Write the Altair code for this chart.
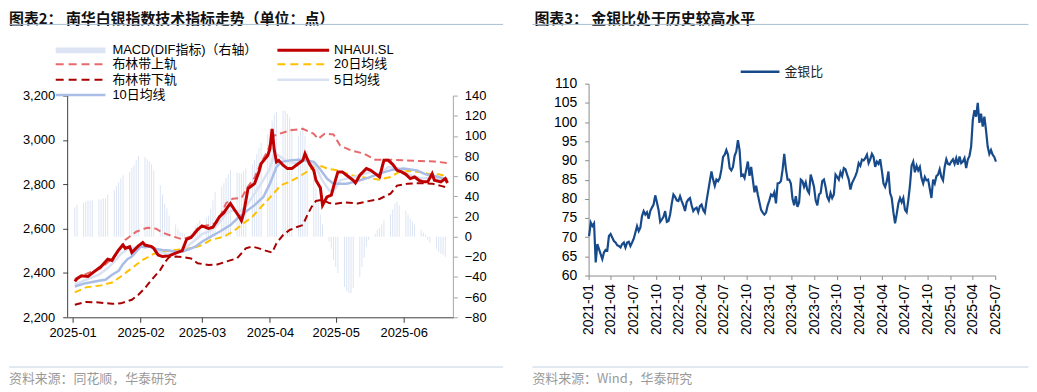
import altair as alt
import pandas as pd

CJK = "Noto Sans CJK SC"
MIX = "Liberation Sans, Noto Sans CJK SC"

# ---------------- 图表2 data (南华白银指数) ----------------
MACD_FIRST = "2025-01-02"
MACD_LAST = "2025-06-20"
macd_dif = [
    29, 32, 34, 35, 36, 36, 36, 37, 37, 38, 38, 42, 46, 50, 54, 58, 61, 64, 68, 71, 76, 80,
    79, 77, 75, 72, 66, 51, 42, 33, 28, 21, 12, 8, 5, 4, 3, 4, 6, 10, 13, 16,
    19, 21, 28, 36, 44, 50, 53, 58, 62, 66, 64, 63, 63, 65, 68, 72, 76, 82, 88, 93, 102,
    107, 115, 121, 124, 125, 125, 122, 118, 108, 100, 105, 110, 100, 85, 60, 48, 35, 22, 12, -5, -12, -23,
    -30, -36, -50, -54, -56, -56, -51, -40, -30, -21, -10, -3, 3, 7, 9, 12, 16, 22, 27, 33, 35, 31,
    26, 22, 18, 15, 12, 7, 4, 2, -3, -6, -12, -15, -17, -18, -20,
]

nh_dates = ["01-02", "01-03", "01-05", "01-08", "01-11", "01-14", "01-17", "01-19", "01-20", "01-22",
            "01-24", "01-25", "01-27", "01-28", "01-31", "02-02", "02-03", "02-06", "02-07", "02-09",
            "02-11", "02-14", "02-17", "02-20", "02-22", "02-24", "02-27", "03-01", "03-04", "03-06",
            "03-09", "03-11", "03-13", "03-14", "03-16", "03-18", "03-19", "03-20", "03-22", "03-24",
            "03-25", "03-27", "03-28", "03-31", "04-01", "04-02", "04-03", "04-04", "04-05", "04-07",
            "04-09", "04-11", "04-13", "04-16", "04-17", "04-18", "04-19", "04-21", "04-22", "04-24",
            "04-25", "04-27", "04-29", "04-30", "05-02", "05-04", "05-06", "05-09", "05-10", "05-12",
            "05-15", "05-17", "05-19", "05-21", "05-23", "05-25", "05-27", "05-29", "05-31", "06-02",
            "06-04", "06-06", "06-08", "06-10", "06-12", "06-14", "06-15", "06-18", "06-20", "06-21"]
nh_vals = [2362, 2374, 2387, 2384, 2407, 2429, 2462, 2456, 2474, 2504,
           2526, 2511, 2519, 2492, 2522, 2537, 2526, 2519, 2511, 2481,
           2474, 2477, 2489, 2501, 2552, 2560, 2595, 2612, 2601, 2606,
           2654, 2672, 2701, 2713, 2683, 2654, 2636, 2669, 2781, 2796,
           2803, 2856, 2893, 2930, 2960, 3050, 2953, 2901, 2908, 2886,
           2871, 2871, 2886, 2908, 2938, 2916, 2893, 2863, 2818, 2785,
           2706, 2743, 2751, 2788, 2856, 2856, 2841, 2818, 2806, 2841,
           2871, 2863, 2848, 2833, 2908, 2908, 2890, 2863, 2856, 2845,
           2826, 2833, 2818, 2811, 2811, 2848, 2818, 2811, 2826, 2806]

ma5_dates = ["01-02", "01-07", "01-13", "01-17", "01-20", "01-23", "01-26", "01-30",
             "02-02", "02-06", "02-09", "02-13", "02-16", "02-20", "02-23", "02-26",
             "03-01", "03-04", "03-08", "03-12", "03-15", "03-18", "03-21", "03-24", "03-28",
             "04-01", "04-03", "04-05", "04-08", "04-13", "04-16", "04-19", "04-22", "04-25", "04-28", "04-30",
             "05-03", "05-08", "05-12", "05-17", "05-21", "05-25", "05-29",
             "06-03", "06-09", "06-14", "06-18", "06-21"]
ma5_vals = [2347, 2369, 2392, 2422, 2451, 2486, 2507, 2516,
            2522, 2519, 2496, 2486, 2489, 2501, 2526, 2549,
            2575, 2586, 2616, 2669, 2683, 2676, 2698, 2743, 2803,
            2871, 2938, 2930, 2908, 2893, 2908, 2901, 2878, 2815, 2773, 2766,
            2818, 2830, 2841, 2856, 2845, 2878, 2874,
            2845, 2826, 2830, 2821, 2818]

ma10_dates = ["01-02", "01-07", "01-13", "01-16", "01-19", "01-22", "01-24", "01-26", "01-28", "01-30",
              "02-01", "02-03", "02-05", "02-08", "02-11", "02-14", "02-17", "02-20", "02-23", "02-26",
              "03-01", "03-05", "03-09", "03-14", "03-18", "03-22", "03-25", "03-29",
              "04-01", "04-04", "04-06", "04-10", "04-14", "04-18", "04-21", "04-23", "04-27", "04-30",
              "05-06", "05-11", "05-16", "05-21", "05-27",
              "06-01", "06-07", "06-11", "06-17", "06-21"]
ma10_vals = [2339, 2354, 2365, 2369, 2392, 2410, 2440, 2462, 2474, 2496,
             2519, 2516, 2519, 2508, 2504, 2501, 2496, 2496, 2507, 2519,
             2541, 2564, 2586, 2616, 2654, 2684, 2706, 2743,
             2803, 2878, 2900, 2908, 2911, 2908, 2901, 2880, 2826, 2803,
             2803, 2815, 2830, 2848, 2866,
             2871, 2863, 2845, 2833, 2821]

ma20_dates = ["01-02", "01-07", "01-14", "01-19", "01-23", "01-28",
              "02-02", "02-07", "02-11", "02-17", "02-23", "02-26",
              "03-01", "03-05", "03-11", "03-15", "03-19", "03-24", "03-28",
              "04-02", "04-06", "04-10", "04-14", "04-17", "04-20", "04-22", "04-25", "04-27",
              "05-02", "05-08", "05-12", "05-17", "05-21", "05-26", "05-30",
              "06-03", "06-08", "06-12", "06-17", "06-21"]
ma20_vals = [2312, 2335, 2344, 2357, 2384, 2422,
             2459, 2486, 2496, 2504, 2511, 2516,
             2526, 2549, 2564, 2586, 2616, 2654, 2698,
             2751, 2796, 2811, 2833, 2851, 2871, 2884, 2880, 2871,
             2863, 2841, 2833, 2826, 2821, 2833, 2856,
             2860, 2856, 2848, 2845, 2836]

upper_dates = ["01-02", "01-08", "01-14", "01-20", "01-25", "01-30",
               "02-04", "02-08", "02-11", "02-16", "02-20", "02-24", "02-27",
               "03-01", "03-08", "03-12", "03-15", "03-19", "03-22", "03-25", "03-28", "03-31",
               "04-02", "04-03", "04-10", "04-16", "04-21", "04-23", "04-26", "04-30",
               "05-03", "05-08", "05-14", "05-19", "05-26",
               "06-01", "06-09", "06-15", "06-21"]
upper_vals = [2372, 2399, 2422, 2474, 2549, 2586,
              2604, 2600, 2582, 2564, 2552, 2565, 2600,
              2610, 2625, 2715, 2735, 2738, 2790, 2830, 2900, 2950,
              3010, 3020, 3043, 3050, 3028, 3005, 3028, 3025,
              2975, 2953, 2938, 2911, 2911,
              2908, 2905, 2903, 2896]

lower_dates = ["01-02", "01-07", "01-13", "01-19", "01-23", "01-28", "01-31",
               "02-03", "02-06", "02-10", "02-12", "02-14", "02-17", "02-21", "02-24", "02-27",
               "03-04", "03-08", "03-12", "03-17", "03-21", "03-24", "03-27", "03-30",
               "04-02", "04-04", "04-07", "04-10", "04-13", "04-16", "04-18", "04-20", "04-22", "04-25", "04-28",
               "05-01", "05-05", "05-11", "05-16", "05-21", "05-26", "05-29",
               "06-03", "06-09", "06-14", "06-18", "06-21"]
lower_vals = [2257, 2269, 2267, 2261, 2263, 2279, 2302,
              2332, 2369, 2414, 2447, 2471, 2474, 2471, 2465, 2444,
              2436, 2438, 2451, 2466, 2511, 2519, 2511, 2501,
              2492, 2534, 2571, 2594, 2606, 2616, 2660, 2698, 2725, 2730, 2715,
              2712, 2719, 2713, 2724, 2734, 2758, 2794,
              2803, 2805, 2803, 2793, 2785]

left_month_ticks = ["2025-01", "2025-02", "2025-03", "2025-04", "2025-05", "2025-06"]
left_price_ticks = [2200, 2400, 2600, 2800, 3000, 3200]
left_macd_ticks = [-80, -60, -40, -20, 0, 20, 40, 60, 80, 100, 120, 140]

legend_labels = ["MACD(DIF指标)（右轴）", "NHAUI.SL", "布林带上轨", "20日均线",
                 "布林带下轨", "5日均线", "10日均线"]

# ---------------- 图表3 data (金银比) ----------------
RATIO_FIRST = "2021-01-03"
RATIO_LAST = "2025-07-04"
gold_silver_ratio = [
    70.3, 73.8, 72.9, 73.6, 63.4, 68.2, 66.9, 65.6, 64.3, 66.0,
    66.7, 66.5, 70.3, 70.8, 69.9, 69.0, 68.6, 67.9, 67.7, 67.3,
    68.2, 68.6, 67.3, 68.6, 68.8, 67.7, 68.6, 69.6, 71.2, 72.9,
    71.6, 72.5, 75.5, 76.8, 75.9, 76.5, 74.8, 76.8, 77.7, 78.5,
    80.9, 79.1, 77.1, 74.0, 74.6, 75.3, 76.8, 74.0, 74.2, 75.9,
    78.8, 81.1, 80.5, 79.6, 79.4, 80.7, 79.4, 78.3, 76.8, 79.1,
    79.8, 80.2, 78.3, 76.8, 77.4, 77.7, 76.5, 78.1, 78.5, 77.1,
    76.4, 79.4, 82.0, 84.6, 87.1, 85.0, 83.4, 85.0, 84.6, 85.4,
    87.6, 90.9, 91.5, 92.7, 91.5, 88.0, 87.4, 88.3, 91.2, 92.3,
    95.3, 92.7, 86.0, 86.3, 85.4, 87.6, 89.7, 86.0, 88.3, 85.0,
    81.7, 83.4, 81.1, 79.1, 77.1, 76.4, 75.9, 76.4, 78.3, 79.6,
    81.1, 80.7, 81.7, 78.8, 84.0, 84.1, 84.6, 87.6, 91.7, 87.8,
    85.0,
    85.0, 84.0, 80.0, 78.3, 80.7, 77.9, 79.1, 85.0, 84.6, 83.1,
    84.3, 82.2, 81.5, 86.3, 84.8, 83.1, 79.6, 78.3, 81.1, 81.5,
    84.6, 85.0, 83.1, 80.5, 79.6, 81.5, 80.2, 81.1, 86.3, 85.7,
    85.0, 86.9, 85.9, 88.0, 87.7, 86.3, 85.0, 82.4, 84.1, 85.0,
    85.9, 87.1, 89.3, 88.6, 90.2, 90.0, 90.6, 91.5, 89.3, 90.3,
    91.7, 90.9, 88.3, 89.7, 89.1, 90.3, 87.4, 84.0, 83.1, 84.6,
    87.1, 81.5, 80.2, 76.5, 73.6, 76.0, 78.8, 80.2, 79.1, 80.2,
    77.1, 76.5, 79.6, 83.4, 88.6, 89.7, 86.9, 88.6, 87.4, 88.3,
    85.4, 84.0, 85.7, 84.8, 85.0, 82.6, 80.2, 85.0, 84.0, 85.9,
    86.3, 87.7, 85.7, 84.8, 88.3, 90.3, 89.1, 88.9, 89.7, 90.3,
    89.1, 90.6, 88.9, 91.0, 89.3, 89.7, 90.6, 88.0, 90.2, 91.2,
    93.6, 100.5, 103.1, 101.4, 105.0, 99.8, 102.2, 98.8, 101.4, 97.9,
    93.6, 91.7, 92.7, 91.5, 90.9, 89.7,
]
ratio_quarter_ticks = ["2021-01", "2021-04", "2021-07", "2021-10", "2022-01", "2022-04", "2022-07",
                       "2022-10", "2023-01", "2023-04", "2023-07", "2023-10", "2024-01", "2024-04",
                       "2024-07", "2024-10", "2025-01", "2025-04", "2025-07"]
ratio_value_ticks = [60, 65, 70, 75, 80, 85, 90, 95, 100, 105, 110]


# ---------------- helpers ----------------
def dt(y, m, d, h=0):
    return alt.DateTime(year=y, month=m, date=d, hours=h, utc=True)


def ym(s):
    return dt(int(s[:4]), int(s[5:7]), 1)


def series_df(dates, vals, prefix="2025-"):
    return pd.DataFrame({"date": [prefix + d for d in dates][:len(vals)],
                         "v": list(vals)[:len(dates)]})


def text_layer(s, x, y, size, color="#000000", weight="normal", font=CJK):
    return alt.Chart(pd.DataFrame({"t": [s]})).mark_text(
        align="left", baseline="middle", font=font, fontSize=size,
        fontWeight=weight, color=color
    ).encode(text="t:N", x=alt.value(x), y=alt.value(y))


def rule_layer(x1, x2, y, color, width, dash=None):
    kw = dict(color=color, strokeWidth=width)
    if dash:
        kw["strokeDash"] = dash
    return alt.Chart(pd.DataFrame({"k": [0]})).mark_rule(**kw).encode(
        x=alt.value(x1), x2=alt.value(x2), y=alt.value(y))


# layout constants (pixels relative to each plot origin)
TITLE_Y = -65
SEP_Y = -59.6
FOOT_LINE_Y = 285
FOOT_TEXT_Y = 297

# ---------------- left panel ----------------
C_RED = "#c00000"
C_UP = "#e8696b"
C_LOW = "#a80000"
C_MA20 = "#ffc000"
C_MA5 = "#d9e1f2"
C_MA10 = "#a9bde6"
C_BAR = "#dce4f3"
DASH = [7, 4]
AX_DARK = "#404040"
AX_GREY = "#a6a6a6"

x_left = alt.X("date:T", title=None,
               scale=alt.Scale(type="utc", domain=[dt(2025, 1, 1), dt(2025, 6, 21, 10)]),
               axis=alt.Axis(values=[ym(s) for s in left_month_ticks], format="%Y-%m",
                             labelFontSize=13, tickSize=5, labelPadding=4, labelFlush=False,
                             labelOverlap=False, domainColor=AX_DARK, tickColor=AX_DARK,
                             labelColor="#000000", grid=False))

# plot area extends 12px above the top tick (3,200 / 140), as in the reference
price_scale = alt.Scale(domain=[2200, 3254], nice=False, zero=False)
price_axis = alt.Axis(orient="left", values=left_price_ticks, format=",.0f",
                      labelFontSize=13, tickSize=5, labelPadding=8, labelFlush=False,
                      labelOverlap=False, domain=False, tickColor=AX_DARK,
                      labelColor="#000000", grid=False)
macd_scale = alt.Scale(domain=[-80, 151.9], nice=False, zero=False)
macd_axis = alt.Axis(orient="right", values=left_macd_ticks, format=".0f",
                     labelFontSize=13, tickSize=4, labelPadding=7, labelFlush=False,
                     labelOverlap=False, domain=False, tickColor=AX_GREY,
                     labelColor="#000000", grid=False)

y_price = alt.Y("v:Q", title=None, scale=price_scale, axis=price_axis)
y_macd = alt.Y("v:Q", title=None, scale=macd_scale, axis=macd_axis)

one = pd.DataFrame({"k": [0]})

macd_dates = list(pd.bdate_range(MACD_FIRST, MACD_LAST).strftime("%Y-%m-%d"))
macd_df = pd.DataFrame({"date": macd_dates[:len(macd_dif)], "v": macd_dif[:len(macd_dates)]})
macd_layer = alt.layer(
    alt.Chart(macd_df).mark_bar(width=1, color=C_BAR).encode(x=x_left, y=y_macd),
    # right axis line, from -80 to 140
    alt.Chart(one).mark_rule(color=AX_GREY, strokeWidth=1).encode(
        x=alt.value(388),
        y=alt.YDatum(left_macd_ticks[-1], type="quantitative", scale=macd_scale,
                     axis=macd_axis, title=None),
        y2=alt.Y2Datum(left_macd_ticks[0])),
)


def line(dates, vals, color, width, dash=None):
    kw = dict(color=color, strokeWidth=width)
    if dash:
        kw["strokeDash"] = dash
    return alt.Chart(series_df(dates, vals)).mark_line(**kw).encode(x=x_left, y=y_price)


price = alt.layer(
    line(ma20_dates, ma20_vals, C_MA20, 2, DASH),
    line(lower_dates, lower_vals, C_LOW, 2, DASH),
    line(upper_dates, upper_vals, C_UP, 2, DASH),
    line(ma5_dates, ma5_vals, C_MA5, 2.5),
    line(ma10_dates, ma10_vals, C_MA10, 2.5),
    line(nh_dates, nh_vals, C_RED, 3),
    # left axis line, from 2,200 to 3,200
    alt.Chart(one).mark_rule(color=AX_DARK, strokeWidth=1).encode(
        x=alt.value(0),
        y=alt.YDatum(left_price_ticks[-1], type="quantitative", scale=price_scale,
                     axis=price_axis, title=None),
        y2=alt.Y2Datum(left_price_ticks[0])),
)

# legend (two columns) and decorations
rows = [-33.5, -19.5, -4, 11.5]
c1 = (-12, 38, 45)
c2 = (211, 263, 268)
swatches = [
    (c1, rows[0], C_BAR, 6, None),
    (c2, rows[0], C_RED, 3, None),
    (c1, rows[1], C_UP, 2, [8, 5]),
    (c2, rows[1], C_MA20, 2, [8, 5]),
    (c1, rows[2], C_LOW, 2, [8, 5]),
    (c2, rows[2], C_MA5, 2.5, None),
    (c1, rows[3], C_MA10, 2.5, None),
]
left_deco = []
for (col, yy, colr, w, dsh), lab in zip(swatches, legend_labels):
    left_deco.append(rule_layer(col[0], col[1], yy, colr, w, dsh))
    left_deco.append(text_layer(lab, col[2], yy, 13, "#000000", "normal", MIX))

left_deco += [
    text_layer("图表2： 南华白银指数技术指标走势（单位：点）", -59, TITLE_Y, 15, "#111111", "bold"),
    rule_layer(-59, 438, SEP_Y, "#a9bcd2", 1),
    rule_layer(-59, 438, FOOT_LINE_Y, "#c5d2e0", 1),
    text_layer("资料来源：同花顺，华泰研究", -59, FOOT_TEXT_Y, 13, "#9a9a9a"),
]

left = alt.layer(macd_layer, price, *left_deco).resolve_scale(y="independent").properties(
    width=388, height=235)

# ---------------- right panel ----------------
C_NAVY = "#164a8a"
ratio_dates = list(pd.date_range(RATIO_FIRST, RATIO_LAST, periods=len(gold_silver_ratio))
                   .strftime("%Y-%m-%dT%H:%M:%SZ"))
ratio_df = pd.DataFrame({"date": ratio_dates, "v": gold_silver_ratio})

x_right = alt.X("date:T", title=None,
                scale=alt.Scale(type="utc", domain=[dt(2021, 1, 1), dt(2025, 7, 1)]),
                axis=alt.Axis(values=[ym(s) for s in ratio_quarter_ticks], format="%Y-%m",
                              labelAngle=270, labelFontSize=14, tickSize=4, labelPadding=4,
                              labelFlush=False, labelOverlap=False,
                              domainColor="#8c8c8c", tickColor="#8c8c8c",
                              labelColor="#000000", grid=False))
y_right = alt.Y("v:Q", title=None,
                scale=alt.Scale(domain=[60, 110], nice=False, zero=False),
                axis=alt.Axis(values=ratio_value_ticks, format=".0f", labelFontSize=14, tickSize=4,
                              labelPadding=8, labelFlush=False, labelOverlap=False,
                              domainColor="#8c8c8c", tickColor="#8c8c8c",
                              labelColor="#000000", grid=False))

ratio_line = alt.Chart(ratio_df).mark_line(color=C_NAVY, strokeWidth=2.2).encode(
    x=x_right, y=y_right)

right_deco = [
    rule_layer(153, 192, -12, C_NAVY, 2.5),
    text_layer("金银比", 197, -12, 13, "#222222"),
    text_layer("图表3： 金银比处于历史较高水平", -54.5, TITLE_Y, 15, "#111111", "bold"),
    rule_layer(-56.5, 442.5, SEP_Y, "#a9bcd2", 1),
    rule_layer(-56.5, 442.5, FOOT_LINE_Y, "#c5d2e0", 1),
    text_layer("资料来源：Wind，华泰研究", -56.5, FOOT_TEXT_Y, 13, "#9a9a9a"),
]

right = alt.layer(ratio_line, *right_deco).properties(width=409, height=193)

chart = alt.hconcat(left, right, spacing=28).properties(
    padding={"left": 0, "top": 3, "right": 0, "bottom": 0}
).configure_view(strokeWidth=0).configure_axis(labelFont="Liberation Sans")

chart.save("out.html", embed_options={"renderer": "svg", "actions": False})
